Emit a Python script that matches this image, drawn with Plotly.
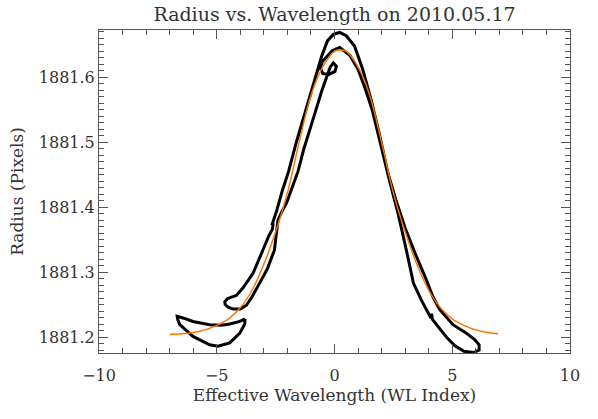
import plotly.graph_objects as go

# fitted curve (orange)
fit_x = [-7.0, -6.5, -6.0, -5.5, -5.0, -4.5, -4.0, -3.5, -3.0, -2.5, -2.0, -1.5, -1.0, -0.5, 0.0, 0.25,
         0.5, 1.0, 1.5, 2.0, 2.5, 3.0, 3.5, 4.0, 4.5, 5.0, 5.5, 6.0, 6.5, 6.95]
fit_y = [1881.204, 1881.205, 1881.207, 1881.211, 1881.218, 1881.228, 1881.245, 1881.272, 1881.312,
         1881.362, 1881.422, 1881.500, 1881.572, 1881.616, 1881.640, 1881.642,
         1881.640, 1881.616, 1881.572, 1881.500, 1881.422, 1881.362, 1881.312, 1881.272, 1881.245,
         1881.228, 1881.218, 1881.211, 1881.207, 1881.205]

# measured radius, main track
track_x = [-1.86, -2.04, -2.25, -2.40, -2.55, -2.85, -3.18, -3.50, -3.74, -4.00, -4.30, -4.52, -4.64, -4.66,
           -4.55, -4.17, -3.90, -3.46, -3.04, -2.80, -2.64, -2.60, -2.66,
           -2.45, -2.22, -1.95, -1.62, -1.30, -1.00, -0.72, -0.55, -0.30, -0.05, 0.22, 0.50, 0.85,
           1.20, 1.55, 1.92, 2.25, 2.60, 3.00, 3.41, 3.90, 4.18, 4.47, 5.03, 5.60, 5.95, 6.14, 6.14,
           5.90, 5.50, 5.10, 4.75, 4.40, 4.16, 4.12, 4.10, 3.70, 3.35, 3.05, 2.70, 2.34, 2.00,
           1.60, 1.28, 1.00, 0.65, 0.22, -0.10, -0.34, -0.52, -0.60, -0.50, -0.25, 0.02, 0.08,
           -0.05, -0.18, -0.30, -0.55, -0.98, -1.30, -1.55, -1.75, -1.86]
track_y = [1881.424, 1881.406, 1881.392, 1881.380, 1881.334, 1881.305, 1881.283, 1881.262, 1881.249,
           1881.243, 1881.243, 1881.246, 1881.250, 1881.254,
           1881.259, 1881.264, 1881.275, 1881.298, 1881.334, 1881.355, 1881.366, 1881.375, 1881.372,
           1881.395, 1881.425, 1881.455, 1881.500, 1881.540, 1881.578, 1881.610, 1881.632,
           1881.656, 1881.666, 1881.669, 1881.664, 1881.648,
           1881.612, 1881.566, 1881.510, 1881.455, 1881.412, 1881.368, 1881.330, 1881.288, 1881.262,
           1881.242, 1881.219, 1881.206, 1881.196, 1881.188, 1881.180,
           1881.176, 1881.178, 1881.187, 1881.200, 1881.216, 1881.227, 1881.236, 1881.229,
           1881.256, 1881.283, 1881.334, 1881.390, 1881.440, 1881.490,
           1881.550, 1881.585, 1881.612, 1881.634, 1881.646, 1881.641, 1881.632, 1881.624,
           1881.614, 1881.606, 1881.604, 1881.609, 1881.617,
           1881.622, 1881.616, 1881.604, 1881.578, 1881.527, 1881.490, 1881.455, 1881.435, 1881.424]

# lower left crescent
cres_x = [-3.80, -4.02, -4.45, -4.80, -5.30, -6.01, -6.40, -6.68, -6.65, -6.57, -6.01, -5.30, -4.95,
          -4.45, -4.02, -3.81, -3.80]
cres_y = [1881.228, 1881.224, 1881.220, 1881.218, 1881.219, 1881.224, 1881.229, 1881.232, 1881.226,
          1881.219, 1881.201, 1881.188, 1881.186, 1881.191, 1881.206, 1881.220, 1881.228]

x_ticks = [-10, -5, 0, 5, 10]
y_ticks = [1881.2, 1881.3, 1881.4, 1881.5, 1881.6]

fig = go.Figure()
fig.add_trace(go.Scatter(x=cres_x, y=cres_y, mode="lines",
                         line=dict(color="black", width=3), showlegend=False))
fig.add_trace(go.Scatter(x=track_x, y=track_y, mode="lines",
                         line=dict(color="black", width=3), showlegend=False))
fig.add_trace(go.Scatter(x=fit_x, y=fit_y, mode="lines",
                         line=dict(color="rgb(255,115,0)", width=1.4, shape="spline"),
                         showlegend=False))

tick_font = dict(family="DejaVu Serif", size=16, color="#333")
label_font = dict(family="DejaVu Serif", size=17, color="#333")
fig.update_layout(
    width=598, height=419,
    margin=dict(l=99, r=28, t=30, b=66),
    paper_bgcolor="white", plot_bgcolor="white",
    font=dict(family="DejaVu Serif", color="#333"),
    title=dict(text="Radius vs. Wavelength on 2010.05.17", x=0.5, xref="paper",
               y=1 - 14 / 419, yref="container", yanchor="middle",
               font=dict(family="DejaVu Serif", size=19, color="#333")),
    xaxis=dict(range=[-10, 10], tickvals=x_ticks, showgrid=False, zeroline=False, automargin=False,
               showline=True, linecolor="#555", linewidth=1, mirror="ticks",
               ticks="inside", ticklen=9, tickcolor="#555", ticklabelstandoff=8,
               minor=dict(ticks="inside", dtick=1, ticklen=5, tickcolor="#555"),
               tickfont=tick_font,
               title=dict(text="Effective Wavelength (WL Index)", font=label_font, standoff=4)),
    yaxis=dict(range=[1881.1754, 1881.6728], tickvals=y_ticks, tickformat=".1f",
               showgrid=False, zeroline=False, automargin=False,
               showline=True, linecolor="#555", linewidth=1, mirror="ticks",
               ticks="inside", ticklen=9, tickcolor="#555",
               minor=dict(ticks="inside", tick0=1881.2, dtick=0.01, ticklen=5, tickcolor="#555"),
               tickfont=tick_font,
               title=dict(text="Radius (Pixels)", font=label_font, standoff=10)),
)

fig.write_html("out.html", config={"displayModeBar": False},
               post_script="document.body.style.margin='0';")
